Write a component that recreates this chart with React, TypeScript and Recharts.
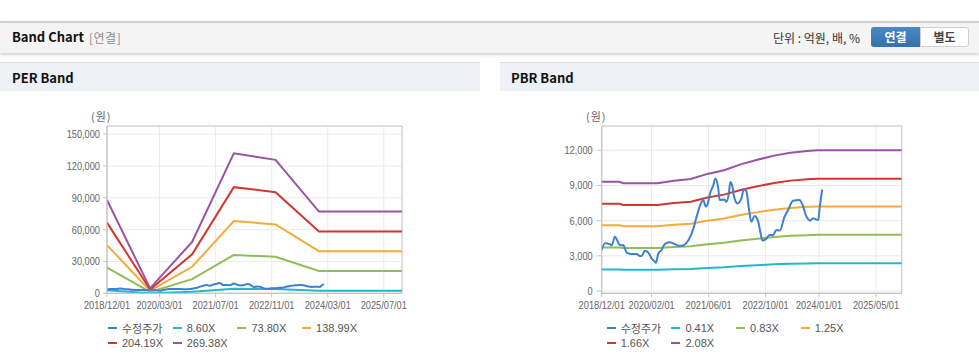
import React from 'react';
import { LineChart, Line, XAxis, YAxis, CartesianGrid, ReferenceArea } from 'recharts';

// ---------- shared price series (수정주가) ----------
const priceMonths = [0, 0.9, 2.3, 2.8, 3.7, 5.1, 6.1, 7, 8.4, 9.8, 10.7, 11.2, 12.1, 13.1, 14, 14.9, 15.2, 15.9, 16.8, 17.7, 19.1, 20.5, 21.9, 23, 24.3, 25.7, 26.6, 27.5, 28.5, 29.2, 29.9, 30.3, 31.3, 31.9, 32.7, 33.1, 34.5, 35, 35.7, 36.1, 36.7, 37.2, 38.1, 39.2, 39.9, 40.6, 41.3, 42, 42.9, 43.8, 44.8, 45.1, 46, 47.1, 48.1, 49, 50, 51.3, 52.3, 53.7, 55.5, 56.4, 57.4, 58.5, 59.3, 60.2, 60.8, 61.1, 61.6, 61.9];
const priceValues = [3500, 4070, 4000, 3900, 4630, 3920, 3900, 3270, 3150, 3150, 2980, 2980, 3440, 3270, 2790, 2500, 2400, 3200, 3500, 4000, 4150, 4000, 3850, 3900, 4300, 5300, 6300, 7200, 7760, 7200, 7600, 8200, 9000, 9600, 8800, 7760, 7800, 7600, 8350, 9300, 8900, 8000, 7470, 7900, 8670, 8500, 7050, 5900, 6400, 6050, 4630, 4300, 4400, 4770, 4770, 5200, 5150, 6330, 6900, 7700, 7760, 7330, 6400, 6000, 6200, 6100, 6050, 6900, 8040, 8670];

// ---------- PER band ----------
const perTickLabels = ['2018/12/01', '2020/03/01', '2021/07/01', '2022/11/01', '2024/03/01', '2025/07/01'];
const perYTicks = [0, 30000, 60000, 90000, 120000, 150000];
const perBandMonths = [0, 12.3, 24.3, 36.2, 48.1, 60.5, 84.2];
const per860 = [2810, 150, 1550, 4214, 4016, 2458, 2458];
const per7380 = [24110, 1284, 13300, 36162, 34465, 21092, 21092];
const per13899 = [45408, 2418, 25000, 68105, 64908, 39723, 39723];
const per20419 = [66709, 3553, 36800, 100053, 95357, 58359, 58359];
const per26938 = [88007, 4687, 48500, 131996, 125800, 76990, 76990];
const perNames = ['수정주가', '8.60X', '73.80X', '138.99X', '204.19X', '269.38X'];

// ---------- PBR band ----------
const pbrTickLabels = ['2018/12/01', '2020/02/01', '2021/06/01', '2022/10/01', '2024/01/01', '2025/05/01'];
const pbrYTicks = [0, 3000, 6000, 9000, 12000];
const pbrBandMonths = [0, 5, 6, 15.6, 20.3, 25, 29.7, 34.3, 39, 43.7, 48.4, 53, 57.7, 60.5, 84.2];
const pbr041 = [1837, 1837, 1812, 1812, 1853, 1882, 1968, 2030, 2128, 2206, 2276, 2325, 2353, 2366, 2366];
const pbr083 = [3718, 3718, 3669, 3669, 3752, 3810, 3984, 4109, 4308, 4465, 4607, 4706, 4764, 4789, 4789];
const pbr125 = [5600, 5600, 5525, 5525, 5650, 5738, 6000, 6188, 6488, 6725, 6938, 7088, 7175, 7213, 7213];
const pbr166 = [7437, 7437, 7337, 7337, 7503, 7619, 7968, 8217, 8615, 8931, 9213, 9412, 9528, 9578, 9578];
const pbr208 = [9318, 9318, 9194, 9194, 9402, 9547, 9984, 10296, 10795, 11190, 11544, 11794, 11939, 12002, 12002];
const pbrNames = ['수정주가', '0.41X', '0.83X', '1.25X', '1.66X', '2.08X'];

const COLORS = ['#3d7fd1', '#22b8cc', '#8fbd56', '#f6aa3a', '#d3362d', '#9a52a5'];
const X_MAX = 84.2;

const FONT = '"Liberation Sans", Arial, "Noto Sans CJK KR", sans-serif';
const KFONT = '"Noto Sans CJK KR", "Liberation Sans", sans-serif';

function monthIndex(s: string): number {
  const [y, m] = s.split('/').map(Number);
  return (y - 2018) * 12 + (m - 12);
}

function zip(ms: number[], vs: number[]) {
  return ms.map((m, i) => ({ m, v: vs[i] }));
}

const fmt = (v: number) => v.toLocaleString('en-US');

function NarrowTick(props: any) {
  const { x, y, payload, tickFormatter, orientation } = props;
  const label = tickFormatter ? tickFormatter(payload.value, payload.index) : String(payload.value);
  const isY = orientation === 'left';
  return (
    <g transform={`translate(${x},${y})`}>
      <text
        transform="scale(0.84,1)"
        textAnchor={isY ? 'end' : 'middle'}
        dy={isY ? '0.355em' : '0.71em'}
        fill="#666"
        fontSize={11}
        fontFamily={FONT}
      >
        {label}
      </text>
    </g>
  );
}

type BandProps = {
  left: number;
  tickLabels: string[];
  yTicks: number[];
  yDomain: [number, number];
  bands: number[][];
  bandMonths: number[];
  yAxisWidth: number;
  marginLeft: number;
  marginRight: number;
  tickSize: number;
  tickMargin: number;
};

function BandPlot(p: BandProps) {
  const xt = p.tickLabels.map(monthIndex);
  const labelOf = (v: number) => {
    const i = xt.indexOf(v);
    return i >= 0 ? p.tickLabels[i] : '';
  };
  return (
    <div style={{ position: 'absolute', left: p.left, top: 100 }}>
      <LineChart width={480} height={220} margin={{ top: 26, right: p.marginRight, bottom: 6.7, left: p.marginLeft }}>
        <CartesianGrid stroke="#ebebeb" />
        <XAxis
          type="number"
          dataKey="m"
          domain={[0, X_MAX]}
          allowDataOverflow
          ticks={xt}
          tickFormatter={labelOf}
          height={20}
          tickSize={4}
          tickMargin={4}
          interval={0}
          stroke="#c4c4c4"
          tick={<NarrowTick />}
        />
        <YAxis
          type="number"
          domain={p.yDomain}
          allowDataOverflow
          ticks={p.yTicks}
          tickFormatter={fmt}
          width={p.yAxisWidth}
          tickSize={p.tickSize}
          tickMargin={p.tickMargin}
          interval={0}
          stroke="#c4c4c4"
          tick={<NarrowTick />}
        />
        <ReferenceArea x1={0} x2={X_MAX} y1={p.yDomain[0]} y2={p.yDomain[1]} fill="none" stroke="#c8c8c8" strokeWidth={1} ifOverflow="visible" />
        {p.bands.map((b, i) => (
          <Line
            key={i}
            data={zip(p.bandMonths, b)}
            dataKey="v"
            stroke={COLORS[i + 1]}
            strokeWidth={2}
            dot={false}
            type="linear"
            isAnimationActive={false}
          />
        ))}
        <Line
          data={zip(priceMonths, priceValues)}
          dataKey="v"
          stroke={COLORS[0]}
          strokeWidth={2}
          dot={false}
          type="monotone"
          isAnimationActive={false}
        />
      </LineChart>
    </div>
  );
}

function LegendBox({ left, names }: { left: number; names: string[] }) {
  return (
    <>
      {names.map((n, i) => {
        const row = Math.floor(i / 4);
        const col = i % 4;
        return (
          <div
            key={n}
            style={{
              position: 'absolute',
              left: left + col * 64.7,
              top: 320 + row * 15,
              height: 15,
              display: 'flex',
              alignItems: 'center',
              fontFamily: FONT,
              fontSize: 11,
              color: '#555',
              whiteSpace: 'nowrap',
            }}
          >
            <span style={{ display: 'inline-block', width: 9, height: 2, background: COLORS[i], marginRight: 5 }} />
            {n}
          </div>
        );
      })}
    </>
  );
}

export default function App() {
  return (
    <div style={{ position: 'absolute', left: 0, top: 0, width: 979, height: 361, background: '#fff', overflow: 'hidden', fontFamily: KFONT }}>
      {/* top header */}
      <div style={{ position: 'absolute', left: 0, top: 21, width: 979, height: 30, background: '#f4f4f4', borderTop: '2px solid #cfcfcf', boxShadow: '0 2px 3px rgba(0,0,0,0.18)' }} />
      <div style={{ position: 'absolute', left: 12, top: 28, fontSize: 13, fontWeight: 700, color: '#111', lineHeight: '18px', fontFamily: KFONT }}>Band Chart</div>
      <div style={{ position: 'absolute', left: 89, top: 29, fontSize: 12, color: '#8a8a8a', lineHeight: '18px', letterSpacing: 0.5 }}>[연결]</div>
      <div style={{ position: 'absolute', left: 773, top: 29, fontSize: 12, color: '#333', lineHeight: '18px' }}>단위 : 억원, 배, %</div>
      <div style={{ position: 'absolute', left: 871, top: 27, width: 49, height: 20, background: 'linear-gradient(#4a88c6, #3470ad)', borderRadius: '3px 0 0 3px', color: '#fff', fontSize: 12, fontWeight: 700, textAlign: 'center', lineHeight: '20px' }}>연결</div>
      <div style={{ position: 'absolute', left: 920, top: 27, width: 47, height: 18, background: '#fff', border: '1px solid #cfcfcf', borderRadius: '0 3px 3px 0', color: '#444', fontSize: 12, fontWeight: 700, textAlign: 'center', lineHeight: '18px' }}>별도</div>

      {/* panel headers */}
      <div style={{ position: 'absolute', left: 0, top: 62, width: 480, height: 28, background: '#eef1f6', borderTop: '1px solid #d9dde4' }} />
      <div style={{ position: 'absolute', left: 12, top: 69, fontSize: 13, fontWeight: 700, color: '#111', lineHeight: '18px' }}>PER Band</div>
      <div style={{ position: 'absolute', left: 500, top: 62, width: 479, height: 28, background: '#eef1f6', borderTop: '1px solid #d9dde4' }} />
      <div style={{ position: 'absolute', left: 511, top: 69, fontSize: 13, fontWeight: 700, color: '#111', lineHeight: '18px' }}>PBR Band</div>

      {/* axis unit labels */}
      <div style={{ position: 'absolute', left: 91, top: 108, fontSize: 11, color: '#666', lineHeight: '16px', letterSpacing: 1 }}>(원)</div>
      <div style={{ position: 'absolute', left: 586, top: 108, fontSize: 11, color: '#666', lineHeight: '16px', letterSpacing: 1 }}>(원)</div>

      <BandPlot
        left={0}
        tickLabels={perTickLabels}
        yTicks={perYTicks}
        yDomain={[0, 157700]}
        bands={[per860, per7380, per13899, per20419, per26938]}
        bandMonths={perBandMonths}
        yAxisWidth={60}
        marginLeft={47}
        marginRight={78}
        tickSize={4}
        tickMargin={3}
      />
      <BandPlot
        left={500}
        tickLabels={pbrTickLabels}
        yTicks={pbrYTicks}
        yDomain={[-196, 14070]}
        bands={[pbr041, pbr083, pbr125, pbr166, pbr208]}
        bandMonths={pbrBandMonths}
        yAxisWidth={60}
        marginLeft={41.7}
        marginRight={78.3}
        tickSize={5}
        tickMargin={4}
      />

      <LegendBox left={108} names={perNames} />
      <LegendBox left={606.7} names={pbrNames} />
    </div>
  );
}
